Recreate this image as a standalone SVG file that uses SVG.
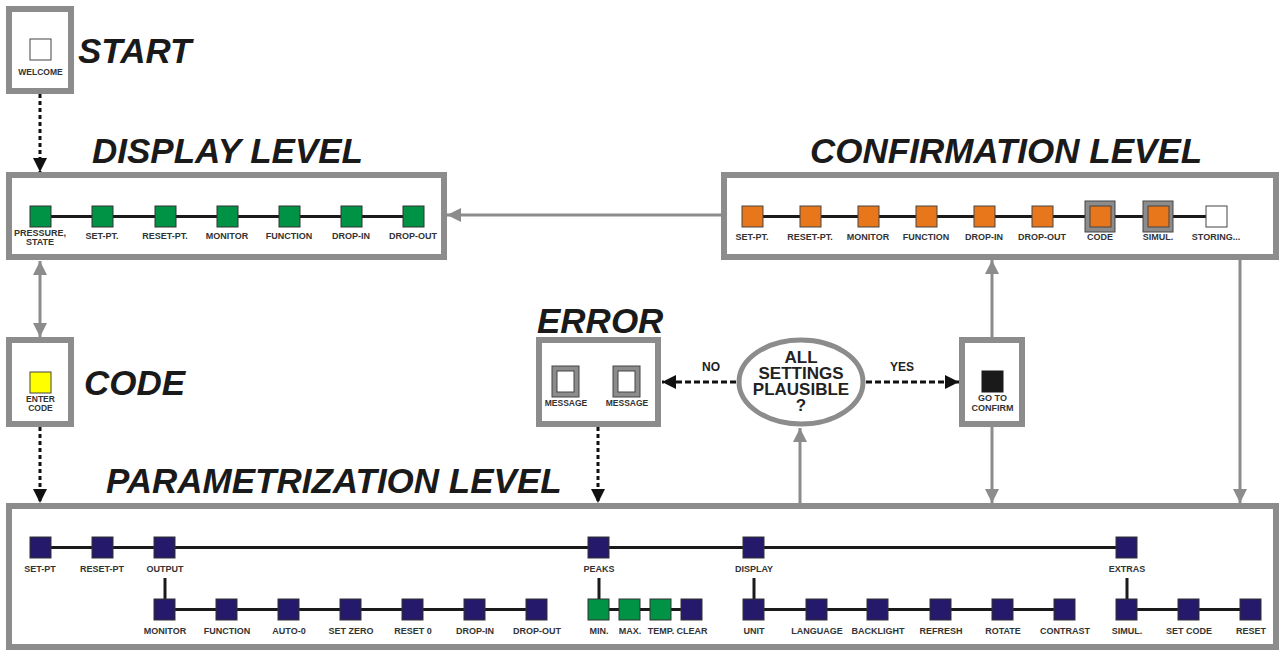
<svg xmlns="http://www.w3.org/2000/svg" width="1280" height="652" viewBox="0 0 1280 652">
<defs>
<marker id="ab" viewBox="0 0 14 14" refX="14" refY="7" markerWidth="14" markerHeight="14" markerUnits="userSpaceOnUse" orient="auto-start-reverse"><path d="M0,0 L14,7 L0,14 z" fill="#111"/></marker>
<marker id="ag" viewBox="0 0 14 14" refX="14" refY="7" markerWidth="14" markerHeight="14" markerUnits="userSpaceOnUse" orient="auto-start-reverse"><path d="M0,0 L14,7 L0,14 z" fill="#8c8c8c"/></marker>
</defs>
<style>
.frame{fill:#fff;stroke:#8c8c8c;stroke-width:6}
.title{font-family:"Liberation Sans",Arial,sans-serif;font-weight:bold;font-style:italic;font-size:35px;fill:#1a1a1a}
.lbl{font-family:"Liberation Sans",Arial,sans-serif;font-weight:bold;font-size:9px;fill:#333;text-anchor:middle}
.lbl8{font-family:"Liberation Sans",Arial,sans-serif;font-weight:bold;font-size:8.5px;fill:#333;text-anchor:middle}
.q{font-family:"Liberation Sans",Arial,sans-serif;font-weight:bold;font-size:17px;fill:#222;text-anchor:middle}
.yn{font-family:"Liberation Sans",Arial,sans-serif;font-weight:bold;font-size:12px;fill:#222;text-anchor:middle}
.bar{stroke:#1a1a1a;stroke-width:3;fill:none}
.n{fill:#24196b;stroke:#333;stroke-width:1}
.g{fill:#009245;stroke:#333;stroke-width:1}
.o{fill:#e8771c;stroke:#444;stroke-width:1}
.w{fill:#fff;stroke:#444;stroke-width:1}
.y{fill:#ffff00;stroke:#444;stroke-width:1}
.k{fill:#1a1a1a;stroke:#1a1a1a;stroke-width:1}
.gf{fill:#8c8c8c;stroke:#444;stroke-width:1}
.cg{stroke:#8c8c8c;stroke-width:3;fill:none}
.cb{stroke:#111;stroke-width:3;fill:none;stroke-dasharray:4 3}
.cd{stroke:#111;stroke-width:3;fill:none;stroke-dasharray:6 3}
</style>
<rect width="1280" height="652" fill="#fff"/>

<g id="connectors">
<line class="cb" x1="40" y1="94" x2="40" y2="172" marker-end="url(#ab)"/>
<line class="cg" x1="40" y1="261" x2="40" y2="337" marker-start="url(#ag)" marker-end="url(#ag)"/>
<line class="cb" x1="40" y1="427" x2="40" y2="503" marker-end="url(#ab)"/>
<line class="cb" x1="598" y1="427" x2="598" y2="503" marker-end="url(#ab)"/>
<line class="cd" x1="736" y1="382" x2="662" y2="382" marker-end="url(#ab)"/>
<line class="cd" x1="866" y1="382" x2="959" y2="382" marker-end="url(#ab)"/>
<line class="cg" x1="800" y1="503" x2="800" y2="428" marker-end="url(#ag)"/>
<line class="cg" x1="992" y1="337" x2="992" y2="260" marker-end="url(#ag)"/>
<line class="cg" x1="992" y1="427" x2="992" y2="503" marker-end="url(#ag)"/>
<line class="cg" x1="1240" y1="260" x2="1240" y2="503" marker-end="url(#ag)"/>
<line class="cg" x1="721" y1="215" x2="447" y2="215" marker-end="url(#ag)"/>
</g>

<g id="start">
<rect class="frame" x="9" y="9" width="62" height="82"/>
<rect class="w" x="30" y="39" width="21" height="21"/>
<text class="lbl8" x="40.5" y="75">WELCOME</text>
<text class="title" x="78" y="63">START</text>
</g>

<g id="display-level">
<text class="title" x="92" y="163">DISPLAY LEVEL</text>
<rect class="frame" x="9" y="175" width="435" height="82"/>
<line class="bar" x1="40" y1="216.5" x2="413" y2="216.5"/>
<rect class="g" x="30" y="206" width="21" height="21"/>
<rect class="g" x="92" y="206" width="21" height="21"/>
<rect class="g" x="155" y="206" width="21" height="21"/>
<rect class="g" x="217" y="206" width="21" height="21"/>
<rect class="g" x="279" y="206" width="21" height="21"/>
<rect class="g" x="341" y="206" width="21" height="21"/>
<rect class="g" x="403" y="206" width="21" height="21"/>
<text class="lbl" x="40" y="236">PRESSURE,</text>
<text class="lbl" x="40" y="245">STATE</text>
<text class="lbl" x="102" y="239">SET-PT.</text>
<text class="lbl" x="165" y="239">RESET-PT.</text>
<text class="lbl" x="227" y="239">MONITOR</text>
<text class="lbl" x="289" y="239">FUNCTION</text>
<text class="lbl" x="351" y="239">DROP-IN</text>
<text class="lbl" x="413" y="239">DROP-OUT</text>
</g>

<g id="confirmation-level">
<text class="title" x="810" y="163">CONFIRMATION LEVEL</text>
<rect class="frame" x="724" y="175" width="552" height="82"/>
<line class="bar" x1="752" y1="216.5" x2="1216" y2="216.5"/>
<rect class="o" x="742" y="206" width="21" height="21"/>
<rect class="o" x="800" y="206" width="21" height="21"/>
<rect class="o" x="858" y="206" width="21" height="21"/>
<rect class="o" x="916" y="206" width="21" height="21"/>
<rect class="o" x="974" y="206" width="21" height="21"/>
<rect class="o" x="1032" y="206" width="21" height="21"/>
<rect class="gf" x="1085" y="201" width="30" height="31"/>
<rect class="o" x="1090" y="206" width="21" height="21"/>
<rect class="gf" x="1143" y="201" width="30" height="31"/>
<rect class="o" x="1148" y="206" width="21" height="21"/>
<rect class="w" x="1206" y="206" width="21" height="21"/>
<text class="lbl" x="752" y="240">SET-PT.</text>
<text class="lbl" x="810" y="240">RESET-PT.</text>
<text class="lbl" x="868" y="240">MONITOR</text>
<text class="lbl" x="926" y="240">FUNCTION</text>
<text class="lbl" x="984" y="240">DROP-IN</text>
<text class="lbl" x="1042" y="240">DROP-OUT</text>
<text class="lbl" x="1100" y="240">CODE</text>
<text class="lbl" x="1158" y="240">SIMUL.</text>
<text class="lbl" x="1216" y="240">STORING...</text>
</g>

<g id="code">
<rect class="frame" x="9" y="340" width="62" height="84"/>
<rect class="y" x="30" y="372" width="21" height="21"/>
<text class="lbl8" x="40.5" y="402">ENTER</text>
<text class="lbl8" x="40.5" y="411">CODE</text>
<text class="title" x="84" y="395">CODE</text>
</g>

<g id="error">
<text class="title" x="537" y="333">ERROR</text>
<rect class="frame" x="539" y="340" width="119" height="84"/>
<rect class="gf" x="552" y="366" width="27" height="31"/>
<rect class="w" x="557" y="371" width="17" height="21"/>
<rect class="gf" x="613" y="366" width="27" height="31"/>
<rect class="w" x="618" y="371" width="17" height="21"/>
<text class="lbl8" x="566" y="406">MESSAGE</text>
<text class="lbl8" x="627" y="406">MESSAGE</text>
</g>

<g id="decision">
<ellipse cx="801" cy="382" rx="62" ry="42" fill="#fff" stroke="#8c8c8c" stroke-width="5"/>
<text class="q" x="801" y="363">ALL</text>
<text class="q" x="801" y="379">SETTINGS</text>
<text class="q" x="801" y="395">PLAUSIBLE</text>
<text class="q" x="801" y="411">?</text>
<text class="yn" x="711" y="371">NO</text>
<text class="yn" x="902" y="371">YES</text>
</g>

<g id="go-to-confirm">
<rect class="frame" x="962" y="340" width="60" height="84"/>
<rect class="k" x="982" y="371" width="21" height="21"/>
<text class="lbl" x="992.5" y="401">GO TO</text>
<text class="lbl" x="992.5" y="411">CONFIRM</text>
</g>

<g id="parametrization-level">
<text class="title" x="106" y="493">PARAMETRIZATION LEVEL</text>
<rect class="frame" x="9" y="506" width="1267" height="141"/>
<line class="bar" x1="40" y1="547.5" x2="1127" y2="547.5"/>
<line class="bar" x1="165" y1="578" x2="165" y2="600"/>
<line class="bar" x1="599" y1="578" x2="599" y2="600"/>
<line class="bar" x1="754" y1="578" x2="754" y2="600"/>
<line class="bar" x1="1127" y1="578" x2="1127" y2="600"/>
<line class="bar" x1="165" y1="609.5" x2="537" y2="609.5"/>
<line class="bar" x1="599" y1="609.5" x2="692" y2="609.5"/>
<line class="bar" x1="754" y1="609.5" x2="1065" y2="609.5"/>
<line class="bar" x1="1127" y1="609.5" x2="1251" y2="609.5"/>
<rect class="n" x="30" y="537" width="21" height="21"/>
<rect class="n" x="92" y="537" width="21" height="21"/>
<rect class="n" x="154" y="537" width="21" height="21"/>
<rect class="n" x="588" y="537" width="21" height="21"/>
<rect class="n" x="743" y="537" width="21" height="21"/>
<rect class="n" x="1116" y="537" width="21" height="21"/>
<text class="lbl" x="40" y="572">SET-PT</text>
<text class="lbl" x="102" y="572">RESET-PT</text>
<text class="lbl" x="165" y="572">OUTPUT</text>
<text class="lbl" x="599" y="572">PEAKS</text>
<text class="lbl" x="754" y="572">DISPLAY</text>
<text class="lbl" x="1127" y="572">EXTRAS</text>
<rect class="n" x="154" y="599" width="21" height="21"/>
<rect class="n" x="216" y="599" width="21" height="21"/>
<rect class="n" x="278" y="599" width="21" height="21"/>
<rect class="n" x="340" y="599" width="21" height="21"/>
<rect class="n" x="402" y="599" width="21" height="21"/>
<rect class="n" x="464" y="599" width="21" height="21"/>
<rect class="n" x="526" y="599" width="21" height="21"/>
<rect class="g" x="588" y="599" width="21" height="21"/>
<rect class="g" x="619" y="599" width="21" height="21"/>
<rect class="g" x="650" y="599" width="21" height="21"/>
<rect class="n" x="681" y="599" width="21" height="21"/>
<rect class="n" x="743" y="599" width="21" height="21"/>
<rect class="n" x="806" y="599" width="21" height="21"/>
<rect class="n" x="867" y="599" width="21" height="21"/>
<rect class="n" x="930" y="599" width="21" height="21"/>
<rect class="n" x="992" y="599" width="21" height="21"/>
<rect class="n" x="1054" y="599" width="21" height="21"/>
<rect class="n" x="1116" y="599" width="21" height="21"/>
<rect class="n" x="1178" y="599" width="21" height="21"/>
<rect class="n" x="1240" y="599" width="21" height="21"/>
<text class="lbl" x="165" y="634">MONITOR</text>
<text class="lbl" x="227" y="634">FUNCTION</text>
<text class="lbl" x="289" y="634">AUTO-0</text>
<text class="lbl" x="351" y="634">SET ZERO</text>
<text class="lbl" x="413" y="634">RESET 0</text>
<text class="lbl" x="475" y="634">DROP-IN</text>
<text class="lbl" x="537" y="634">DROP-OUT</text>
<text class="lbl" x="599" y="634">MIN.</text>
<text class="lbl" x="630" y="634">MAX.</text>
<text class="lbl" x="661" y="634">TEMP.</text>
<text class="lbl" x="692" y="634">CLEAR</text>
<text class="lbl" x="754" y="634">UNIT</text>
<text class="lbl" x="817" y="634">LANGUAGE</text>
<text class="lbl" x="878" y="634">BACKLIGHT</text>
<text class="lbl" x="941" y="634">REFRESH</text>
<text class="lbl" x="1003" y="634">ROTATE</text>
<text class="lbl" x="1065" y="634">CONTRAST</text>
<text class="lbl" x="1127" y="634">SIMUL.</text>
<text class="lbl" x="1189" y="634">SET CODE</text>
<text class="lbl" x="1251" y="634">RESET</text>
</g>
</svg>
